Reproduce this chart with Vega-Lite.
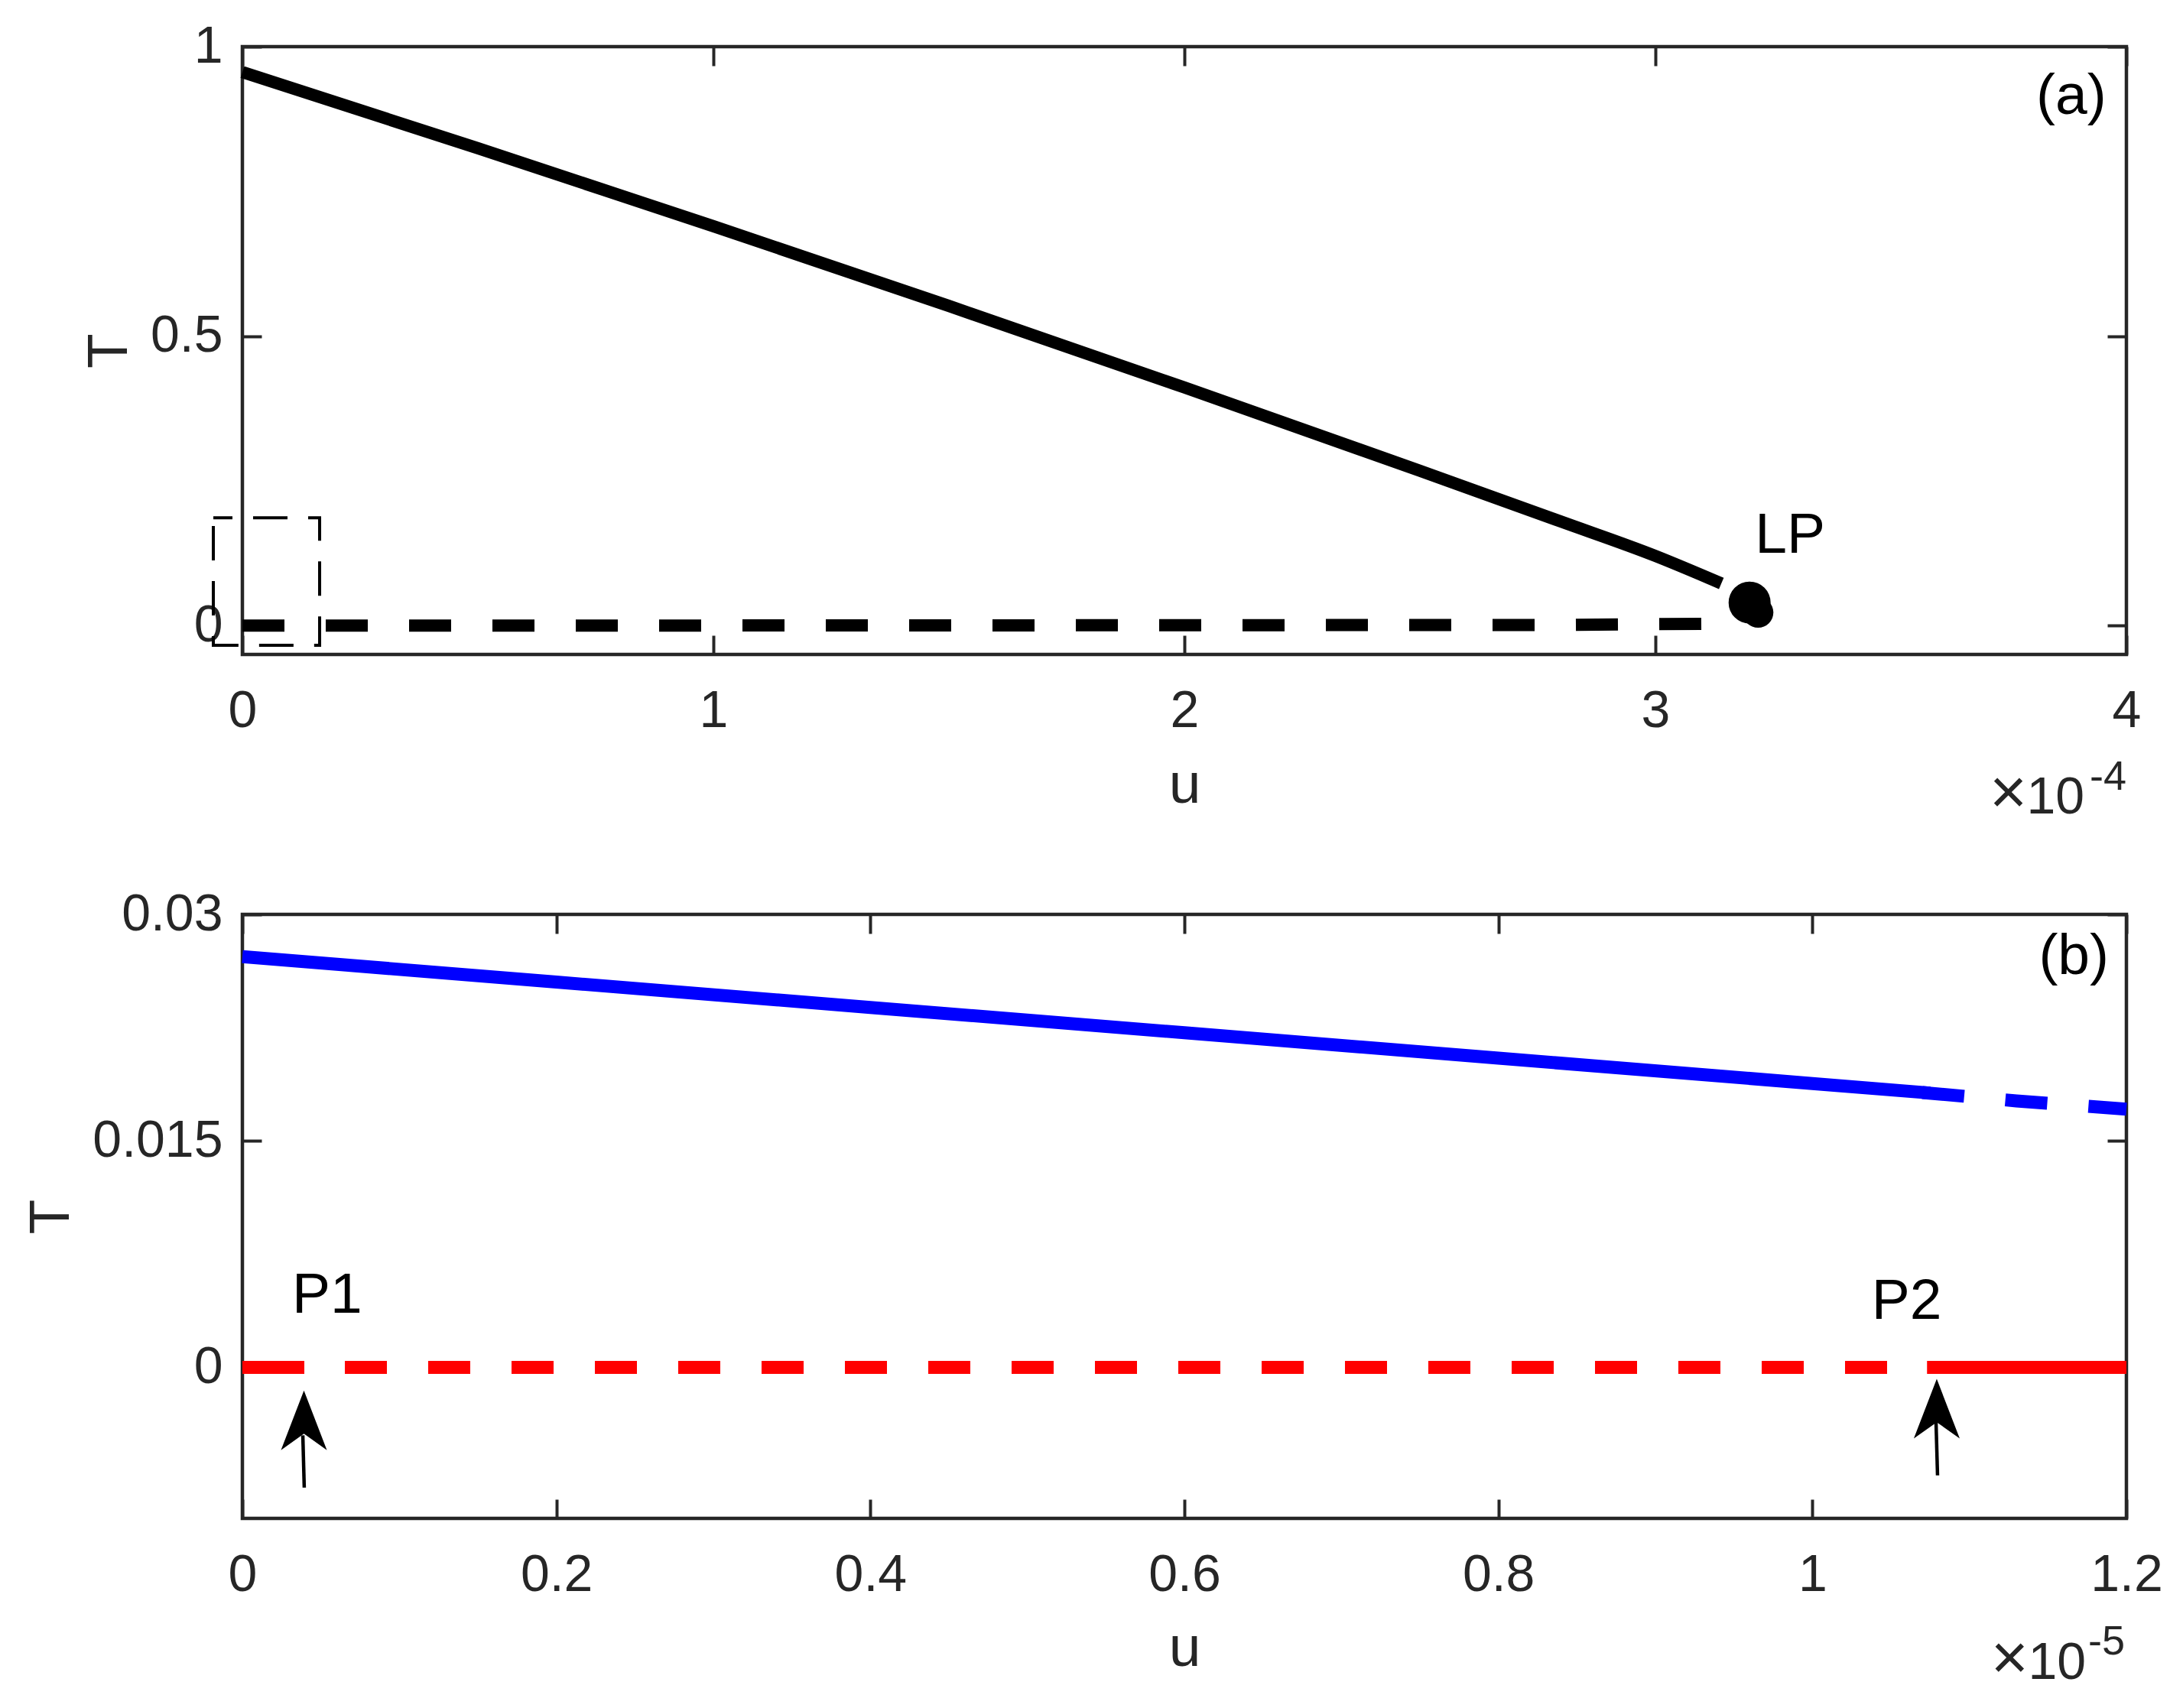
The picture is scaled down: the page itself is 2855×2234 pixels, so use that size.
{
  "$schema": "https://vega.github.io/schema/vega-lite/v6.json",
  "background": "white",
  "padding": {"left": 26, "top": 24, "right": 10, "bottom": 10},
  "spacing": 340,
  "bounds": "flush",
  "config": {
    "view": {"stroke": "#262626", "strokeWidth": 4.5},
    "axis": {
      "domain": false, "grid": false,
      "tickSize": -25, "tickWidth": 4, "tickColor": "#262626",
      "labelFont": "Liberation Sans", "labelFontSize": 68, "labelColor": "#262626",
      "titleFont": "Liberation Sans", "titleFontSize": 75, "titleFontWeight": "normal", "titleColor": "#262626",
      "labelFlush": false, "labelOverlap": false, "labelBound": false, "format": ".4~g"
    }
  },
  "vconcat": [
    {
      "width": 2464, "height": 795,
      "resolve": {"axis": {"x": "independent", "y": "independent"}},
      "layer": [
        {
          "data": {"values": [
            {"u": 0, "T": 0.956}, {"u": 0.5, "T": 0.8245}, {"u": 1, "T": 0.6898}, {"u": 1.5, "T": 0.552},
            {"u": 2, "T": 0.4112}, {"u": 2.5, "T": 0.2673}, {"u": 2.8, "T": 0.1794}, {"u": 3.0, "T": 0.1202}, {"u": 3.14, "T": 0.0727}
          ]},
          "mark": {"type": "line", "color": "black", "strokeWidth": 16, "interpolate": "monotone"},
          "encoding": {
            "x": {"field": "u", "type": "quantitative", "scale": {"domain": [0, 4], "nice": false, "zero": false},
              "axis": {"orient": "bottom", "values": [0, 1, 2, 3, 4], "labelPadding": 65, "title": "u", "titleX": 1232, "titleY": 193, "titleBaseline": "alphabetic", "titleAlign": "center"}},
            "y": {"field": "T", "type": "quantitative", "scale": {"domain": [-0.05, 1], "nice": false, "zero": false},
              "axis": {"orient": "left", "values": [0, 0.5, 1], "labelPadding": 51, "title": "T", "titleX": -152, "titleY": 397.5, "titleAngle": 270, "titleBaseline": "alphabetic", "titleAlign": "center"}}
          }
        },
        {
          "data": {"values": [
            {"u": 0, "T": 0}, {"u": 1, "T": 0}, {"u": 2, "T": 0.0005}, {"u": 2.8, "T": 0.001}, {"u": 3.1, "T": 0.003}, {"u": 3.218, "T": 0.0225}
          ]},
          "mark": {"type": "line", "color": "black", "strokeWidth": 16, "strokeDash": [55, 54]},
          "encoding": {
            "x": {"field": "u", "type": "quantitative", "scale": {"domain": [0, 4], "nice": false, "zero": false},
              "axis": {"orient": "top", "values": [0, 1, 2, 3, 4], "labels": false, "title": null}},
            "y": {"field": "T", "type": "quantitative", "scale": {"domain": [-0.05, 1], "nice": false, "zero": false},
              "axis": {"orient": "right", "values": [0, 0.5, 1], "labels": false, "title": null}}
          }
        },
        {
          "data": {"values": [{"u0": -0.0617, "u1": 0.164, "T0": -0.0343, "T1": 0.186}]},
          "mark": {"type": "rect", "fill": null, "fillOpacity": 0, "stroke": "black", "strokeWidth": 4, "strokeDash": [45, 27], "strokeDashOffset": 20},
          "encoding": {
            "x": {"field": "u0", "type": "quantitative", "axis": null},
            "x2": {"field": "u1"},
            "y": {"field": "T0", "type": "quantitative", "axis": null},
            "y2": {"field": "T1"}
          }
        },
        {
          "data": {"values": [{"u": 3.2, "T": 0.0396, "m": "big"}, {"u": 3.218, "T": 0.0225, "m": "small"}]},
          "mark": {"type": "point", "shape": "circle", "filled": true, "color": "black", "opacity": 1},
          "encoding": {
            "x": {"field": "u", "type": "quantitative", "axis": null},
            "y": {"field": "T", "type": "quantitative", "axis": null},
            "size": {"field": "m", "type": "nominal", "scale": {"domain": ["big", "small"], "range": [3025, 1600]}, "legend": null}
          }
        },
        {
          "data": {"values": [{"u": 3.286, "T": 0.1255, "label": "LP"}, {"u": 3.883, "T": 0.884, "label": "(a)"}]},
          "mark": {"type": "text", "font": "Liberation Sans", "fontSize": 75, "align": "center", "baseline": "alphabetic", "color": "black"},
          "encoding": {
            "x": {"field": "u", "type": "quantitative", "axis": null},
            "y": {"field": "T", "type": "quantitative", "axis": null},
            "text": {"field": "label"}
          }
        },
        {
          "data": {"values": [{"u": 3.911, "T": -0.325, "label": "10"}]},
          "mark": {"type": "text", "font": "Liberation Sans", "fontSize": 68, "align": "right", "baseline": "alphabetic", "color": "#262626"},
          "encoding": {
            "x": {"field": "u", "type": "quantitative", "axis": null},
            "y": {"field": "T", "type": "quantitative", "axis": null},
            "text": {"field": "label"}
          }
        },
        {
          "data": {"values": [{"u": 3.789, "T": -0.325, "label": "×"}]},
          "mark": {"type": "text", "font": "Liberation Sans", "fontSize": 84, "align": "right", "baseline": "alphabetic", "color": "#262626"},
          "encoding": {
            "x": {"field": "u", "type": "quantitative", "axis": null},
            "y": {"field": "T", "type": "quantitative", "axis": null},
            "text": {"field": "label"}
          }
        },
        {
          "data": {"values": [{"u": 3.922, "T": -0.284, "label": "-4"}]},
          "mark": {"type": "text", "font": "Liberation Sans", "fontSize": 54, "align": "left", "baseline": "alphabetic", "color": "#262626"},
          "encoding": {
            "x": {"field": "u", "type": "quantitative", "axis": null},
            "y": {"field": "T", "type": "quantitative", "axis": null},
            "text": {"field": "label"}
          }
        }
      ]
    },
    {
      "width": 2464, "height": 790,
      "resolve": {"axis": {"x": "independent", "y": "independent"}},
      "layer": [
        {
          "data": {"values": [
            {"u": 0, "T": 0.0272}, {"u": 0.2, "T": 0.02552}, {"u": 0.4, "T": 0.02384}, {"u": 0.6, "T": 0.02216},
            {"u": 0.8, "T": 0.02048}, {"u": 1.0, "T": 0.0188}, {"u": 1.075, "T": 0.01817}
          ]},
          "mark": {"type": "line", "color": "#0000FF", "strokeWidth": 17},
          "encoding": {
            "x": {"field": "u", "type": "quantitative", "scale": {"domain": [0, 1.2], "nice": false, "zero": false},
              "axis": {"orient": "bottom", "values": [0, 0.2, 0.4, 0.6, 0.8, 1, 1.2], "labelPadding": 65, "title": "u", "titleX": 1232, "titleY": 192, "titleBaseline": "alphabetic", "titleAlign": "center"}},
            "y": {"field": "T", "type": "quantitative", "scale": {"domain": [-0.01, 0.03], "nice": false, "zero": false},
              "axis": {"orient": "left", "values": [0, 0.015, 0.03], "labelPadding": 51, "title": "T", "titleX": -228, "titleY": 395, "titleAngle": 270, "titleBaseline": "alphabetic", "titleAlign": "center"}}
          }
        },
        {
          "data": {"values": [{"u": 1.07, "T": 0.0182}, {"u": 1.13, "T": 0.01765}, {"u": 1.2, "T": 0.0171}]},
          "mark": {"type": "line", "color": "#0000FF", "strokeWidth": 17, "strokeDash": [55, 54]},
          "encoding": {
            "x": {"field": "u", "type": "quantitative", "scale": {"domain": [0, 1.2], "nice": false, "zero": false},
              "axis": {"orient": "top", "values": [0, 0.2, 0.4, 0.6, 0.8, 1, 1.2], "labels": false, "title": null}},
            "y": {"field": "T", "type": "quantitative", "scale": {"domain": [-0.01, 0.03], "nice": false, "zero": false},
              "axis": {"orient": "right", "values": [0, 0.015, 0.03], "labels": false, "title": null}}
          }
        },
        {
          "data": {"values": [{"u": 0, "T": 0}, {"u": 1.073, "T": 0}]},
          "mark": {"type": "line", "color": "#FF0000", "strokeWidth": 17, "strokeDash": [81, 53, 55, 54, 55, 54, 55, 54, 55, 54, 55, 54, 55, 54, 55, 54, 55, 54, 55, 54, 55, 54, 55, 54, 55, 54, 55, 54, 55, 54, 55, 54, 55, 54, 55, 54, 55, 54, 55, 54, 55, 54, 55, 54]},
          "encoding": {
            "x": {"field": "u", "type": "quantitative", "axis": null},
            "y": {"field": "T", "type": "quantitative", "axis": null}
          }
        },
        {
          "data": {"values": [{"u": 1.073, "T": 0}, {"u": 1.2, "T": 0}]},
          "mark": {"type": "line", "color": "#FF0000", "strokeWidth": 17},
          "encoding": {
            "x": {"field": "u", "type": "quantitative", "axis": null},
            "y": {"field": "T", "type": "quantitative", "axis": null}
          }
        },
        {
          "data": {"values": [
            {"u": 0.0385, "T": -0.0045, "u2": 0.0394, "T2": -0.00796},
            {"u": 1.0787, "T": -0.0035, "u2": 1.0797, "T2": -0.00715}
          ]},
          "mark": {"type": "rule", "color": "black", "strokeWidth": 4.5},
          "encoding": {
            "x": {"field": "u", "type": "quantitative", "axis": null},
            "y": {"field": "T", "type": "quantitative", "axis": null},
            "x2": {"field": "u2"},
            "y2": {"field": "T2"}
          }
        },
        {
          "data": {"values": [{"u": 0.0392, "T": -0.0035}, {"u": 1.0792, "T": -0.00274}]},
          "mark": {"type": "point", "shape": "M0,-1L0.77,1L0,0.45L-0.77,1Z", "filled": true, "color": "black", "opacity": 1, "size": 6084},
          "encoding": {
            "x": {"field": "u", "type": "quantitative", "axis": null},
            "y": {"field": "T", "type": "quantitative", "axis": null}
          }
        },
        {
          "data": {"values": [{"u": 0.054, "T": 0.0036, "label": "P1"}, {"u": 1.06, "T": 0.0032, "label": "P2"}, {"u": 1.1665, "T": 0.02605, "label": "(b)"}]},
          "mark": {"type": "text", "font": "Liberation Sans", "fontSize": 75, "align": "center", "baseline": "alphabetic", "color": "black"},
          "encoding": {
            "x": {"field": "u", "type": "quantitative", "axis": null},
            "y": {"field": "T", "type": "quantitative", "axis": null},
            "text": {"field": "label"}
          }
        },
        {
          "data": {"values": [{"u": 1.1742, "T": -0.02063, "label": "10"}]},
          "mark": {"type": "text", "font": "Liberation Sans", "fontSize": 68, "align": "right", "baseline": "alphabetic", "color": "#262626"},
          "encoding": {
            "x": {"field": "u", "type": "quantitative", "axis": null},
            "y": {"field": "T", "type": "quantitative", "axis": null},
            "text": {"field": "label"}
          }
        },
        {
          "data": {"values": [{"u": 1.1376, "T": -0.02063, "label": "×"}]},
          "mark": {"type": "text", "font": "Liberation Sans", "fontSize": 84, "align": "right", "baseline": "alphabetic", "color": "#262626"},
          "encoding": {
            "x": {"field": "u", "type": "quantitative", "axis": null},
            "y": {"field": "T", "type": "quantitative", "axis": null},
            "text": {"field": "label"}
          }
        },
        {
          "data": {"values": [{"u": 1.1757, "T": -0.019, "label": "-5"}]},
          "mark": {"type": "text", "font": "Liberation Sans", "fontSize": 54, "align": "left", "baseline": "alphabetic", "color": "#262626"},
          "encoding": {
            "x": {"field": "u", "type": "quantitative", "axis": null},
            "y": {"field": "T", "type": "quantitative", "axis": null},
            "text": {"field": "label"}
          }
        }
      ]
    }
  ]
}
